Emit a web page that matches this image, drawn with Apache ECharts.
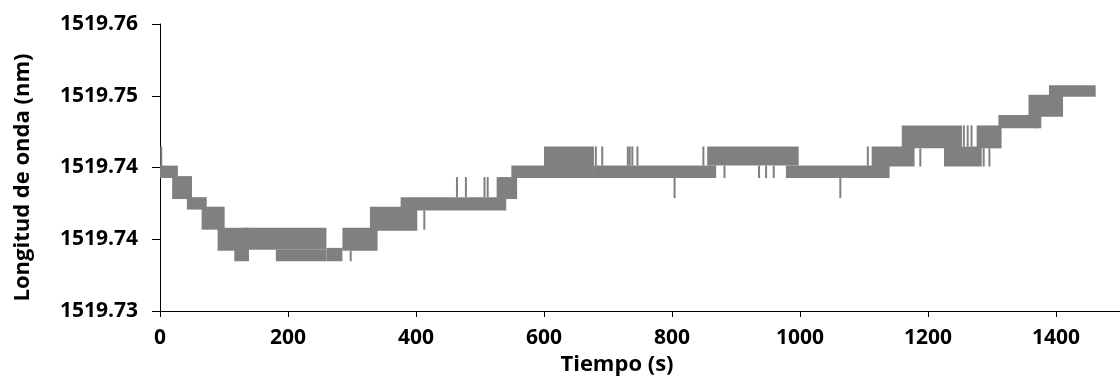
<!DOCTYPE html>
<html>
<head>
<meta charset="utf-8">
<script src="https://cdn.jsdelivr.net/npm/echarts@6/dist/echarts.min.js"></script>
<style>
html,body{margin:0;padding:0;background:#fff;}
#chart{width:1120px;height:381px;}
</style>
</head>
<body>
<div id="chart"></div>
<script>
// ---- data (time in s, wavelength in nm) ----
// Each band = the signal toggling between a low and a high level over a time span
const BAND_START = [0, 19, 42, 65, 90, 116, 130, 181, 260, 285, 328, 376, 526, 549, 600, 678, 855, 978, 1112, 1159, 1225, 1276, 1310, 1357, 1366, 1389];
const BAND_END   = [28, 50, 73, 101, 139, 139, 260, 260, 285, 340, 402, 541, 558, 600, 678, 869, 998, 1140, 1179, 1253, 1284, 1315, 1369, 1411, 1377, 1462];
const BAND_LOW   = [1519.7439, 1519.7417, 1519.7406, 1519.7385, 1519.7363, 1519.7352, 1519.7364, 1519.7352, 1519.7352, 1519.7363, 1519.7384, 1519.7405, 1519.7417, 1519.7439, 1519.7439, 1519.7439, 1519.7452, 1519.7439, 1519.7451, 1519.7470, 1519.7451, 1519.7470, 1519.7491, 1519.7503, 1519.7491, 1519.7524];
const BAND_HIGH  = [1519.7452, 1519.7441, 1519.7419, 1519.7409, 1519.7387, 1519.7364, 1519.7387, 1519.7364, 1519.7366, 1519.7387, 1519.7409, 1519.7419, 1519.7440, 1519.7452, 1519.7472, 1519.7452, 1519.7472, 1519.7452, 1519.7472, 1519.7494, 1519.7472, 1519.7494, 1519.7505, 1519.7526, 1519.7504, 1519.7536];

// Isolated single-sample excursions
const SPIKE_TIME = [2, 298, 413, 464, 478, 507, 512, 681, 691, 731, 734, 738, 746, 804, 849, 882, 936, 947, 959, 1063, 1106, 1188, 1256, 1262, 1268, 1287, 1296];
const SPIKE_FROM = [1519.7445, 1519.7363, 1519.7405, 1519.7419, 1519.7419, 1519.7419, 1519.7419, 1519.7452, 1519.7452, 1519.7452, 1519.7452, 1519.7452, 1519.7452, 1519.7439, 1519.7452, 1519.7452, 1519.7452, 1519.7452, 1519.7452, 1519.7439, 1519.7452, 1519.7470, 1519.7472, 1519.7472, 1519.7472, 1519.7470, 1519.7470];
const SPIKE_TO   = [1519.7472, 1519.7352, 1519.7385, 1519.7440, 1519.7440, 1519.7440, 1519.7440, 1519.7472, 1519.7472, 1519.7472, 1519.7472, 1519.7472, 1519.7472, 1519.7418, 1519.7472, 1519.7439, 1519.7439, 1519.7439, 1519.7439, 1519.7418, 1519.7472, 1519.7451, 1519.7494, 1519.7494, 1519.7494, 1519.7451, 1519.7451];

// axes
const Y_BASE = 1519.73;
const Y_TICK_LABELS = ['1519.73', '1519.74', '1519.74', '1519.75', '1519.76'];
const X_TICK_LABELS = ['0', '200', '400', '600', '800', '1000', '1200', '1400'];

const bandData = BAND_START.map((s, i) => [s, BAND_END[i], BAND_LOW[i] - Y_BASE, BAND_HIGH[i] - Y_BASE]);
const spikeData = SPIKE_TIME.map((t, i) => [t, SPIKE_FROM[i] - Y_BASE, SPIKE_TO[i] - Y_BASE]);

const GRAY = '#808080';
const FONT = 'Open Sans';

const chart = echarts.init(document.getElementById('chart'), null, {renderer: 'canvas'});
chart.setOption({
  animation: false,
  backgroundColor: '#fff',
  grid: {left: 160, top: 24, bottom: 70, right: -10, containLabel: false},
  xAxis: {
    type: 'value', min: 0, max: 1500, interval: 200,
    name: 'Tiempo (s)', nameLocation: 'middle', nameGap: 43,
    nameTextStyle: {fontFamily: FONT, fontWeight: 'bold', fontSize: 22, color: '#000', padding: [0, 46, 0, 0]},
    axisLine: {lineStyle: {color: '#000', width: 1}},
    axisTick: {show: true, length: 6, lineStyle: {color: '#000', width: 1}},
    axisLabel: {
      fontFamily: FONT, fontWeight: 'bold', fontSize: 21, color: '#000', margin: 17,
      showMaxLabel: false,
      formatter: v => { const k = Math.round(v / 200); return X_TICK_LABELS[k] !== undefined ? X_TICK_LABELS[k] : ''; }
    },
    splitLine: {show: false}
  },
  yAxis: {
    type: 'value', min: 0, max: 0.03, interval: 0.0075,
    name: 'Longitud de onda (nm)', nameLocation: 'middle', nameGap: 126,
    nameTextStyle: {fontFamily: FONT, fontWeight: 'bold', fontSize: 22, color: '#000', padding: [0, 20, 0, 0]},
    axisLine: {show: true, lineStyle: {color: '#000', width: 1}},
    axisTick: {show: true, length: 8, lineStyle: {color: '#000', width: 1}},
    axisLabel: {
      fontFamily: FONT, fontWeight: 'bold', fontSize: 21, color: '#000', margin: 22,
      formatter: v => Y_TICK_LABELS[Math.round(v / 0.0075)]
    },
    splitLine: {show: false}
  },
  series: [
    {
      type: 'custom',
      data: bandData,
      clip: true,
      renderItem: (params, api) => {
        const p1 = api.coord([api.value(0), api.value(3)]);
        const p2 = api.coord([api.value(1), api.value(2)]);
        return {
          type: 'rect',
          shape: {x: p1[0], y: p1[1], width: p2[0] - p1[0], height: p2[1] - p1[1]},
          style: {fill: GRAY}
        };
      }
    },
    {
      type: 'custom',
      data: spikeData,
      clip: true,
      renderItem: (params, api) => {
        const a = api.coord([api.value(0), api.value(1)]);
        const b = api.coord([api.value(0), api.value(2)]);
        return {
          type: 'line',
          shape: {x1: a[0], y1: a[1], x2: b[0], y2: b[1]},
          style: {stroke: GRAY, lineWidth: 2}
        };
      }
    }
  ]
});
</script>
</body>
</html>
